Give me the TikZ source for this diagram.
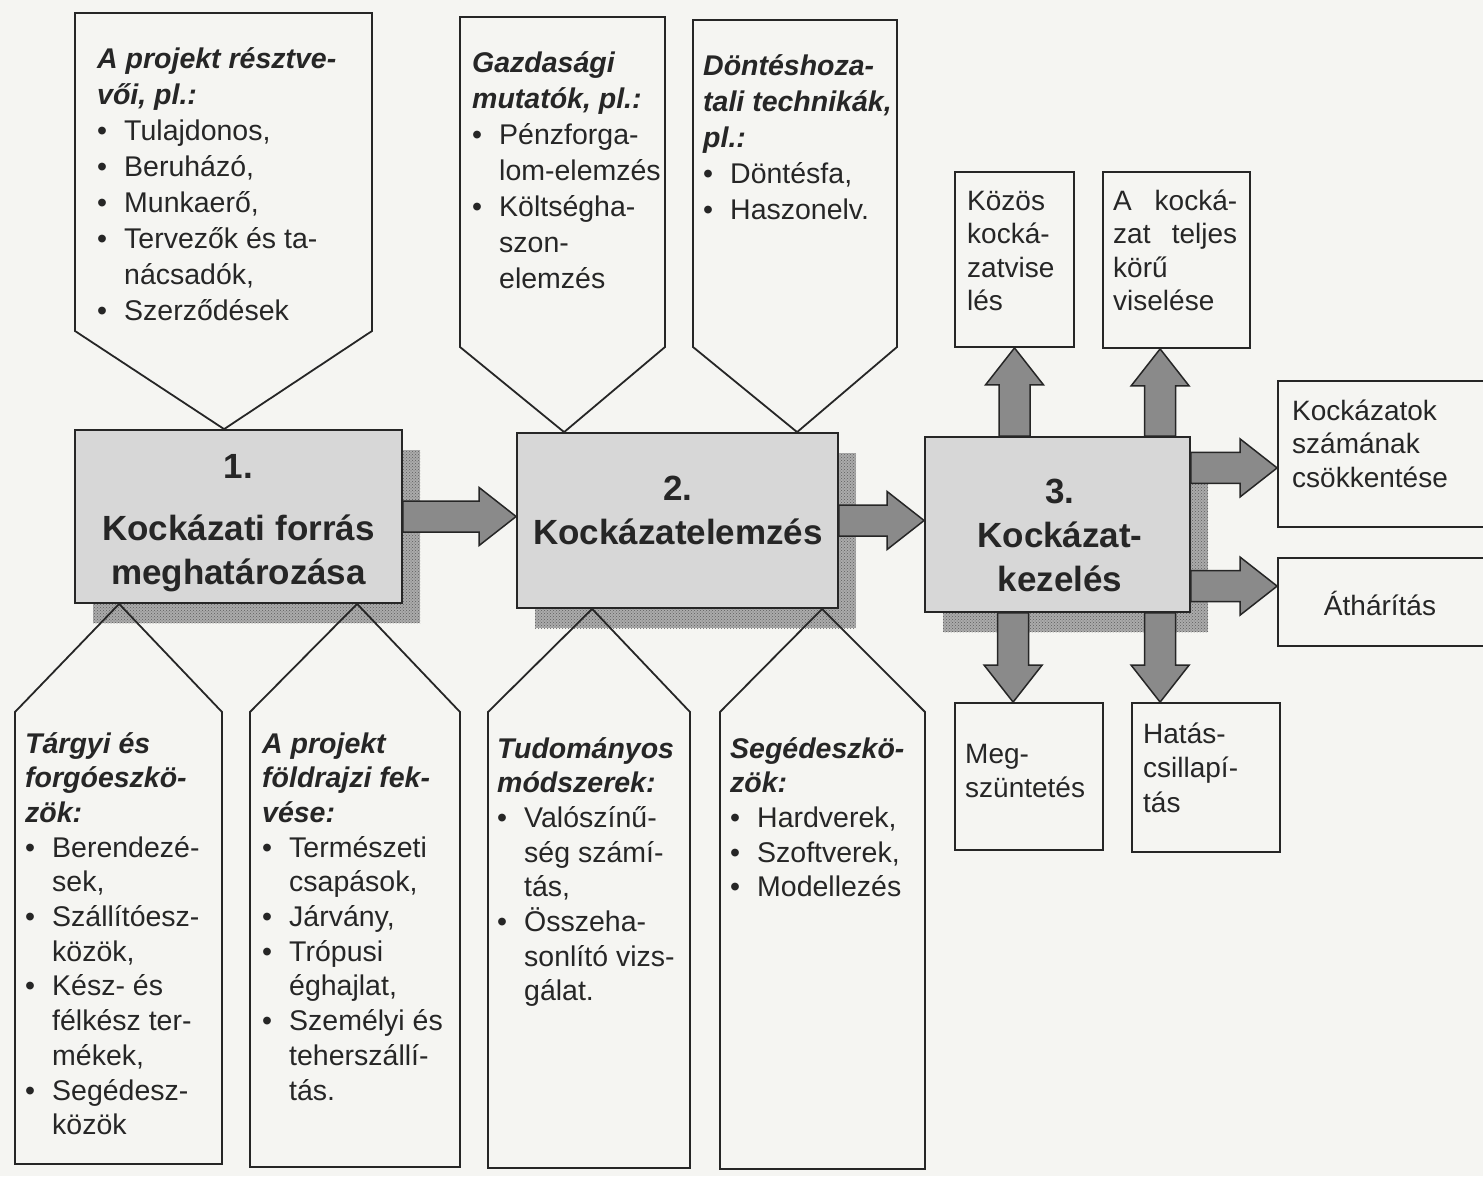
\documentclass[tikz,border=0pt]{standalone}
\usepackage{fontspec}
\setmainfont{Liberation Sans}
\usetikzlibrary{calc,patterns}

\definecolor{paper}{HTML}{F5F5F2}
\definecolor{ink}{HTML}{262626}
\definecolor{boxgray}{HTML}{D7D7D7}
\definecolor{arrowgray}{HTML}{8A8A8A}
\definecolor{shadegray}{HTML}{ABABAB}
\definecolor{dotgray}{HTML}{5E5E5E}

% stacked lines: first baseline is the reference point
\newcommand\Lstack[1]{\vtop{\halign{##\hfil\cr#1\crcr}}}
\newcommand\Cstack[1]{\vtop{\halign{\hfil##\hfil\cr#1\crcr}}}
\newcommand\hd[1]{\textbf{\textit{#1}}}
\newcommand\bi[1]{\makebox[27pt][l]{\textbullet}#1}
\newcommand\ct[1]{\hspace*{27pt}#1}

% broad block arrow from coordinate #1 to the tip #2
\newcommand\fatarrow[2]{%
  \coordinate (fahead) at ($(#2)!37pt!(#1)$);
  \draw[fatarrow] ($(#1)!15.5pt!90:(#2)$) -- ($(fahead)!15.5pt!90:(#2)$)
    -- ($(fahead)!29pt!90:(#2)$) -- (#2) -- ($(fahead)!29pt!-90:(#2)$)
    -- ($(fahead)!15.5pt!-90:(#2)$) -- ($(#1)!15.5pt!-90:(#2)$) -- cycle;}

\tikzset{
  frame/.style={draw=ink, line width=1.8pt, line join=miter},
  mainbox/.style={frame, fill=boxgray, inner sep=0pt,
    preaction={fill=shadegray, transform canvas={shift={(18pt,-20pt)}}},
    preaction={pattern=crosshatch dots, pattern color=dotgray,
               transform canvas={shift={(18pt,-20pt)}}}},
  plainbox/.style={frame, fill=paper, inner sep=0pt},
  fatarrow/.style={draw=ink, line width=1.5pt, fill=arrowgray, line join=miter},
  toplist/.style={inner sep=0pt, anchor=base west, text=ink,
    font=\fontsize{28.5}{36}\selectfont},
  botlist/.style={inner sep=0pt, anchor=base west, text=ink,
    font=\fontsize{28.5}{34.7}\selectfont},
  boxtext/.style={inner sep=0pt, anchor=base west, text=ink,
    font=\fontsize{28}{33.5}\selectfont},
  maintext/.style={inner sep=0pt, anchor=base, text=ink,
    font=\bfseries\fontsize{35}{44}\selectfont},
}

\begin{document}
\begin{tikzpicture}[x=1pt,y=-1pt]
\fill[paper] (0,0) rectangle (1483,1176);
\useasboundingbox (0,0) rectangle (1483,1176);
\clip (0,0) rectangle (1483,1176);

% the three process steps
\node[mainbox, minimum width=327pt, minimum height=173pt] (b1) at (238.5,516.5) {};
\node[mainbox, minimum width=321pt, minimum height=175pt] (b2) at (677.5,520.5) {};
\node[mainbox, minimum width=265pt, minimum height=175pt] (b3) at (1057.5,524.5) {};

% outcome boxes of step 3
\node[plainbox, minimum width=119pt, minimum height=175pt] (tb1) at (1014.5,259.5) {};
\node[plainbox, minimum width=147pt, minimum height=176pt] (tb2) at (1176.5,260) {};
\node[plainbox, minimum width=222pt, minimum height=146pt] (rb1) at (1389,454) {};
\node[plainbox, minimum width=222pt, minimum height=88pt] (rb2) at (1389,602) {};
\node[plainbox, minimum width=148pt, minimum height=147pt] (mb1) at (1029,776.5) {};
\node[plainbox, minimum width=148pt, minimum height=149pt] (mb2) at (1206,777.5) {};

% callout tips on the step boxes
\coordinate (p1tip) at ($(b1.north west)+(150,0)$);
\coordinate (p2tip) at ($(b2.north west)+(48,0)$);
\coordinate (p3tip) at ($(b2.north west)+(281,0)$);
\coordinate (q1tip) at ($(b1.south west)+(45,0)$);
\coordinate (q2tip) at ($(b1.south west)+(283,0)$);
\coordinate (q3tip) at ($(b2.south west)+(76,0)$);
\coordinate (q4tip) at ($(b2.south west)+(306,0)$);

% callouts above the steps
\draw[frame] (75,13) -- (372,13) -- (372,331) -- (p1tip) -- (75,331) -- cycle;
\draw[frame] (460,17) -- (665,17) -- (665,347) -- (p2tip) -- (460,347) -- cycle;
\draw[frame] (693,20) -- (897,20) -- (897,347) -- (p3tip) -- (693,347) -- cycle;

% callouts below the steps
\draw[frame] (q1tip) -- (222,712) -- (222,1164) -- (15,1164) -- (15,712) -- cycle;
\draw[frame] (q2tip) -- (460,712) -- (460,1167) -- (250,1167) -- (250,712) -- cycle;
\draw[frame] (q3tip) -- (690,712) -- (690,1168) -- (488,1168) -- (488,712) -- cycle;
\draw[frame] (q4tip) -- (925,712) -- (925,1169) -- (720,1169) -- (720,712) -- cycle;

% block arrows
\coordinate (a12s) at (b1.east);
\coordinate (a12t) at (b2.west |- b1.east);
\coordinate (a23s) at (b2.east);
\coordinate (a23t) at (b3.west |- b2.east);
\coordinate (u1t) at (tb1.south);
\coordinate (u1s) at (b3.north -| u1t);
\coordinate (u2t) at ($(tb2.south west)+(58,0)$);
\coordinate (u2s) at (b3.north -| u2t);
\coordinate (d1t) at ($(mb1.north west)+(59,0)$);
\coordinate (d1s) at (b3.south -| d1t);
\coordinate (d2t) at ($(mb2.north west)+(29,0)$);
\coordinate (d2s) at (b3.south -| d2t);
\coordinate (r1t) at ($(rb1.south west)+(0,-60)$);
\coordinate (r1s) at (b3.east |- r1t);
\coordinate (r2t) at ($(rb2.north west)+(0,29)$);
\coordinate (r2s) at (b3.east |- r2t);
\fatarrow{a12s}{a12t}
\fatarrow{a23s}{a23t}
\fatarrow{u1s}{u1t}
\fatarrow{u2s}{u2t}
\fatarrow{d1s}{d1t}
\fatarrow{d2s}{d2t}
\fatarrow{r1s}{r1t}
\fatarrow{r2s}{r2t}

% step titles
\node[maintext] (t1) at (238.5,478) {\Cstack{1.\cr\noalign{\vskip18pt}Kockázati forrás\cr meghatározása}};
\node[maintext] (t2) at (678,500) {\Cstack{2.\cr Kockázatelemzés}};
\node[maintext] (t3) at (1060,503) {\Cstack{3.\cr Kockázat-\cr kezelés}};

% callout texts
\node[toplist] (p1txt) at (97,68) {\Lstack{\hd{A projekt résztve-}\cr \hd{vői, pl.:}\cr
  \bi{Tulajdonos,}\cr \bi{Beruházó,}\cr \bi{Munkaerő,}\cr \bi{Tervezők és ta-}\cr
  \ct{nácsadók,}\cr \bi{Szerződések}}};
\node[toplist] (p2txt) at (472,72) {\Lstack{\hd{Gazdasági}\cr \hd{mutatók, pl.:}\cr
  \bi{Pénzforga-}\cr \ct{lom-elemzés}\cr \bi{Költségha-}\cr \ct{szon-}\cr \ct{elemzés}}};
\node[toplist] (p3txt) at (703,75) {\Lstack{\hd{Döntéshoza-}\cr \hd{tali technikák,}\cr
  \hd{pl.:}\cr \bi{Döntésfa,}\cr \bi{Haszonelv.}}};

\node[botlist] (q1txt) at (25,753) {\Lstack{\hd{Tárgyi és}\cr \hd{forgóeszkö-}\cr \hd{zök:}\cr
  \bi{Berendezé-}\cr \ct{sek,}\cr \bi{Szállítóesz-}\cr \ct{közök,}\cr \bi{Kész- és}\cr
  \ct{félkész ter-}\cr \ct{mékek,}\cr \bi{Segédesz-}\cr \ct{közök}}};
\node[botlist] (q2txt) at (262,753) {\Lstack{\hd{A projekt}\cr \hd{földrajzi fek-}\cr \hd{vése:}\cr
  \bi{Természeti}\cr \ct{csapások,}\cr \bi{Járvány,}\cr \bi{Trópusi}\cr \ct{éghajlat,}\cr
  \bi{Személyi és}\cr \ct{teherszállí-}\cr \ct{tás.}}};
\node[botlist] (q3txt) at (497,758) {\Lstack{\hd{Tudományos}\cr \hd{módszerek:}\cr
  \bi{Valószínű-}\cr \ct{ség számí-}\cr \ct{tás,}\cr \bi{Összeha-}\cr \ct{sonlító vizs-}\cr
  \ct{gálat.}}};
\node[botlist] (q4txt) at (730,758) {\Lstack{\hd{Segédeszkö-}\cr \hd{zök:}\cr
  \bi{Hardverek,}\cr \bi{Szoftverek,}\cr \bi{Modellezés}}};

% outcome texts
\node[boxtext] (tb1txt) at (967,210) {\Lstack{Közös\cr kocká-\cr zatvise\cr lés}};
\node[boxtext] (tb2txt) at (1113,210) {\Lstack{\hbox to 124pt{A\hfil kocká-}\cr
  \hbox to 124pt{zat\hfil teljes}\cr körű\cr viselése}};
\node[boxtext] (rb1txt) at (1292,420) {\Lstack{Kockázatok\cr számának\cr csökkentése}};
\node[boxtext, anchor=base] (rb2txt) at (1380,615) {Áthárítás};
\node[boxtext, font=\fontsize{28}{34}\selectfont] (mb1txt) at (965,763) {\Lstack{Meg-\cr szüntetés}};
\node[boxtext, font=\fontsize{28}{34.5}\selectfont] (mb2txt) at (1143,743) {\Lstack{Hatás-\cr csillapí-\cr tás}};
\end{tikzpicture}
\end{document}
